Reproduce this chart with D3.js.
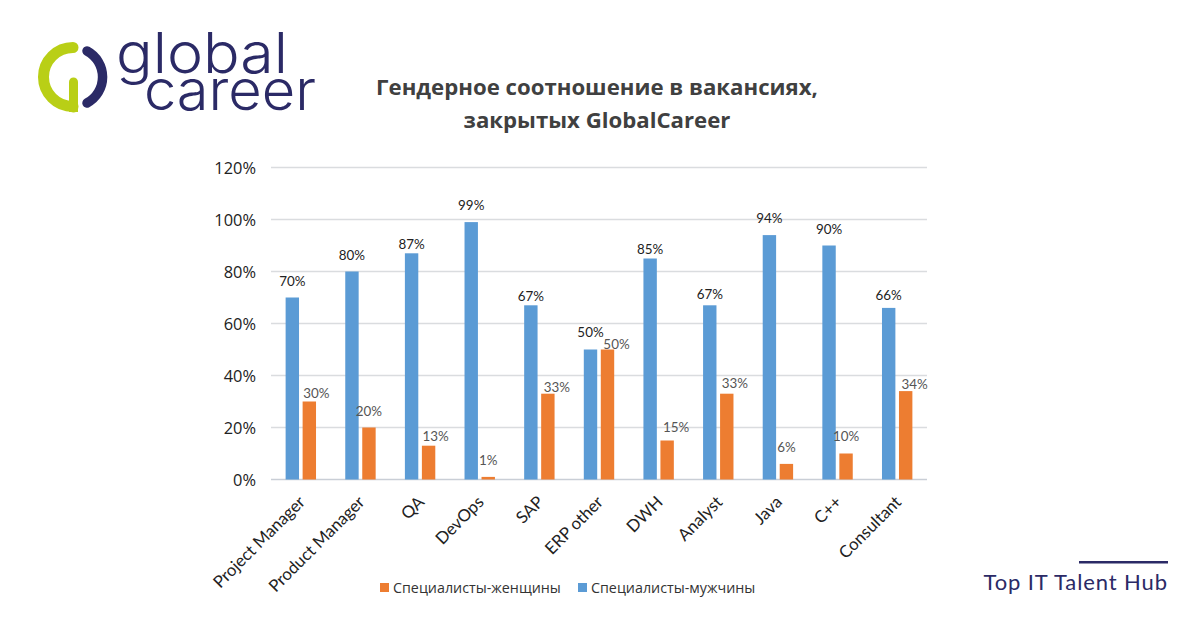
<!DOCTYPE html>
<html><head><meta charset="utf-8"><script src="https://cdnjs.cloudflare.com/ajax/libs/d3/7.8.5/d3.min.js"></script>
<style>html,body{margin:0;padding:0;background:#fff}svg{display:block}</style></head><body>
<svg id="c" width="1200" height="628"></svg>
<script>
const categories=["Project Manager","Product Manager","QA","DevOps","SAP","ERP other","DWH","Analyst","Java","C++","Consultant"];
const men=[70,80,87,99,67,50,85,67,94,90,66];
const women=[30,20,13,1,33,50,15,33,6,10,34];
const yTicks=[0,20,40,60,80,100,120];
const titleLines=["Гендерное соотношение в вакансиях,","закрытых GlobalCareer"];
const legendItems=[["Специалисты-женщины","#ed7d31"],["Специалисты-мужчины","#5b9bd5"]];
// hand-placed label nudges, as in the source chart
const menLift=[16,16.5,9,17,9,17,9.5,11,17,16,13];
const womenLift=[8,16.5,9,17,6.5,5.5,13.5,10.5,17,17.5,7];
const womenShift=[7,0,7,0,9,9,9,8,0,0,9];
const svg=d3.select("#c");
const x=d3.scaleBand().domain(categories).range([271,927]);
const y=d3.scaleLinear().domain([0,120]).range([479.5,167.5]);
const bw=13.4,gap=3.6;
const chartFont="Lato, sans-serif", uiFont="'Open Sans', sans-serif";
svg.append("g").selectAll("line").data(yTicks).join("line")
 .attr("x1",271).attr("x2",927).attr("y1",d=>y(d)).attr("y2",d=>y(d))
 .attr("stroke",d=>d===0?"#c9ced6":"#dadcdf").attr("stroke-width",1.3);
svg.append("g").selectAll("text").data(yTicks).join("text")
 .attr("x",256).attr("y",d=>y(d)+6).attr("text-anchor","end")
 .attr("font-family",uiFont).attr("font-size",16.4).attr("fill","#222").text(d=>d+"%");
const cx=c=>x(c)+x.bandwidth()/2;
svg.append("g").selectAll("rect").data(categories).join("rect")
 .attr("x",c=>cx(c)-gap/2-bw).attr("width",bw).attr("y",(c,i)=>y(men[i])).attr("height",(c,i)=>y(0)-y(men[i])).attr("fill","#5b9bd5");
svg.append("g").selectAll("rect").data(categories).join("rect")
 .attr("x",c=>cx(c)+gap/2).attr("width",bw).attr("y",(c,i)=>y(women[i])).attr("height",(c,i)=>y(0)-y(women[i])).attr("fill","#ed7d31");
svg.append("g").selectAll("text").data(categories).join("text")
 .attr("x",c=>cx(c)-gap/2-bw/2).attr("y",(c,i)=>y(men[i])-menLift[i]).attr("dy","0.35em").attr("text-anchor","middle")
 .attr("font-family",chartFont).attr("font-size",13.4).attr("fill","#222").text((c,i)=>men[i]+"%");
svg.append("g").selectAll("text").data(categories).join("text")
 .attr("x",(c,i)=>cx(c)+gap/2+bw/2+womenShift[i]).attr("y",(c,i)=>y(women[i])-womenLift[i]).attr("dy","0.35em").attr("text-anchor","middle")
 .attr("font-family",chartFont).attr("font-size",13.4).attr("fill","#555").text((c,i)=>women[i]+"%");
svg.append("g").selectAll("text").data(categories).join("text")
 .attr("transform",c=>`translate(${cx(c)+1},${499}) rotate(-45)`).attr("text-anchor","end").attr("dy","0.35em")
 .attr("font-family",chartFont).attr("font-size",16.8).attr("fill","#222").text(c=>c);
svg.append("g").selectAll("text").data(titleLines).join("text")
 .attr("x",597).attr("y",(d,i)=>95+i*33).attr("text-anchor","middle")
 .attr("font-family",uiFont).attr("font-weight",700).attr("font-size",22.2).attr("fill","#404040").text(d=>d);
const lx=[380,578];
legendItems.forEach((l,i)=>{
 svg.append("rect").attr("x",lx[i]).attr("y",583).attr("width",9).attr("height",9).attr("fill",l[1]);
 svg.append("text").attr("x",lx[i]+13).attr("y",593).attr("font-family",uiFont).attr("font-size",14.3).attr("fill","#333").text(l[0]);
});
const navy="#2b2a66",lime="#b9cf16";
const logo=svg.append("g");
logo.append("path").attr("d","M73 47.5 A29.5 29.5 0 1 0 73 106.5").attr("fill","none").attr("stroke",lime).attr("stroke-width",11).attr("stroke-linecap","round");
logo.append("path").attr("d","M73.5 82 L73.5 108").attr("fill","none").attr("stroke",lime).attr("stroke-width",9).attr("stroke-linecap","round");
logo.append("rect").attr("x",69).attr("y",100).attr("width",9).attr("height",12).attr("fill",lime);
logo.append("path").attr("d","M87 51 A29.5 29.5 0 0 1 87 103").attr("fill","none").attr("stroke",navy).attr("stroke-width",9.5).attr("stroke-linecap","round");
logo.append("text").attr("x",116).attr("y",73).attr("font-family","Inter, sans-serif").attr("font-weight",300).attr("font-size",56).attr("textLength",172).attr("lengthAdjust","spacingAndGlyphs").attr("fill",navy).text("global");
logo.append("text").attr("x",144).attr("y",110).attr("font-family","Inter, sans-serif").attr("font-weight",300).attr("font-size",56).attr("textLength",172).attr("lengthAdjust","spacingAndGlyphs").attr("fill",navy).text("career");
svg.append("rect").attr("x",1079).attr("y",561).attr("width",89).attr("height",2.5).attr("fill",navy);
svg.append("text").attr("x",1168).attr("y",590).attr("text-anchor","end").attr("font-family",chartFont).attr("font-size",22).attr("letter-spacing",0.9).attr("fill",navy).text("Top IT Talent Hub");
</script></body></html>
